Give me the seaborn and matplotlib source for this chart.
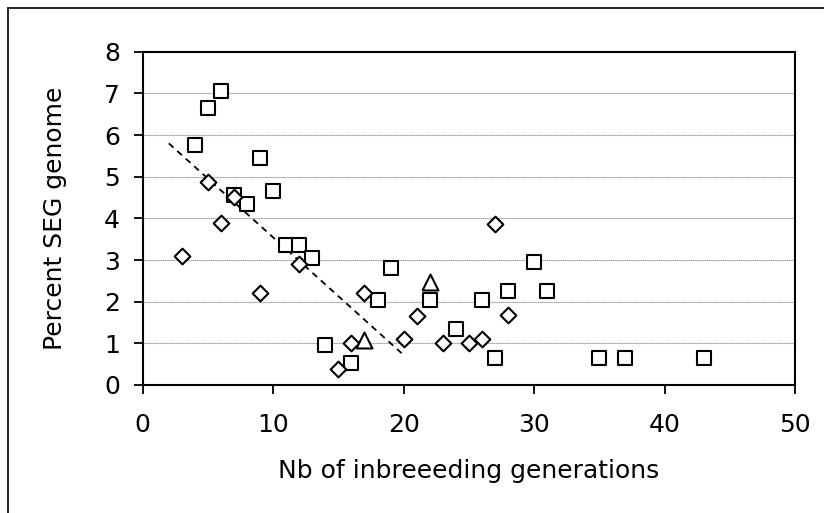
import matplotlib
matplotlib.use("Agg")
import matplotlib.pyplot as plt
import seaborn as sns
import pandas as pd
from matplotlib.lines import Line2D

# ---- data ----
sq_x = [4, 5, 6, 7, 8, 9, 10, 11, 12, 13, 14, 16, 18, 19, 22, 24, 26, 27, 28, 30, 31, 35, 37, 43]
sq_y = [5.75, 6.65, 7.05, 4.55, 4.35, 5.45, 4.65, 3.35, 3.35, 3.05, 0.95, 0.52, 2.05, 2.8, 2.05,
        1.35, 2.05, 0.65, 2.25, 2.95, 2.25, 0.65, 0.65, 0.65]
di_x = [3, 5, 6, 7, 9, 12, 15, 16, 17, 20, 21, 23, 25, 26, 27, 28]
di_y = [3.1, 4.88, 3.88, 4.52, 2.2, 2.9, 0.38, 1.0, 2.2, 1.1, 1.66, 1.0, 1.0, 1.1, 3.87, 1.67]
tr_x = [17, 22]
tr_y = [1.08, 2.47]
trend_x = [2, 20]
trend_y = [5.8, 0.72]
x_ticks = [0, 10, 20, 30, 40, 50]
y_ticks = [0, 1, 2, 3, 4, 5, 6, 7, 8]

sns.set_theme(style="white")
plt.rcParams['font.family'] = ['DejaVu Sans']

fig = plt.figure(figsize=(8.24, 5.13), dpi=100)
ax = fig.add_axes([142.7 / 824, 1 - 385 / 513, (795 - 142.7) / 824, (385 - 51.7) / 513])

# outer chart border (left and top visible)
fig.add_artist(Line2D([8 / 824, 8 / 824], [1 - 8 / 513, -0.1], transform=fig.transFigure,
                      color="black", lw=1.2))
fig.add_artist(Line2D([8 / 824, 1.1], [1 - 8 / 513, 1 - 8 / 513], transform=fig.transFigure,
                      color="black", lw=1.2))

for yv in y_ticks[1:-1]:
    ax.axhline(yv, color="#8c8c8c", lw=0.8, ls=(0, (1, 0.6)), zorder=0)

df_tr = pd.DataFrame({"x": trend_x, "y": trend_y})
sns.lineplot(data=df_tr, x="x", y="y", ax=ax, color="black", lw=1.3,
             dashes=False, linestyle=(0, (3.5, 2.8)), zorder=2)

df_sq = pd.DataFrame({"x": sq_x, "y": sq_y})
df_di = pd.DataFrame({"x": di_x, "y": di_y})
df_tr2 = pd.DataFrame({"x": tr_x, "y": tr_y})
sns.scatterplot(data=df_sq, x="x", y="y", ax=ax, marker="s", s=(10.0) ** 2,
                facecolor="white", edgecolor="black", linewidth=1.5, zorder=3)
sns.scatterplot(data=df_di, x="x", y="y", ax=ax, marker="D", s=(8.0) ** 2,
                facecolor="white", edgecolor="black", linewidth=1.5, zorder=4)
tri = [(-1, -1), (1, -1), (0, 1), (-1, -1)]
sns.scatterplot(data=df_tr2, x="x", y="y", ax=ax, marker=tri, s=(11.5) ** 2,
                facecolor="white", edgecolor="black", linewidth=1.5, zorder=4)

ax.set_xlim(0, 50)
ax.set_ylim(0, 8)
ax.set_xticks(x_ticks)
ax.set_yticks(y_ticks)
ax.tick_params(axis="both", which="major", direction="out", length=6.3, width=1.3,
               color="black", labelsize=18, labelcolor="black", bottom=True, left=True)
ax.tick_params(axis="x", pad=14)
ax.tick_params(axis="y", pad=10)
for sp in ax.spines.values():
    sp.set_visible(True)
    sp.set_color("black")
    sp.set_linewidth(1.5)

ax.set_xlabel("Nb of inbreeeding generations", fontsize=18, labelpad=16, color="black")
ax.set_ylabel("Percent SEG genome", fontsize=18, labelpad=27, color="black")

fig.savefig("out.png", dpi=100, facecolor="white")
